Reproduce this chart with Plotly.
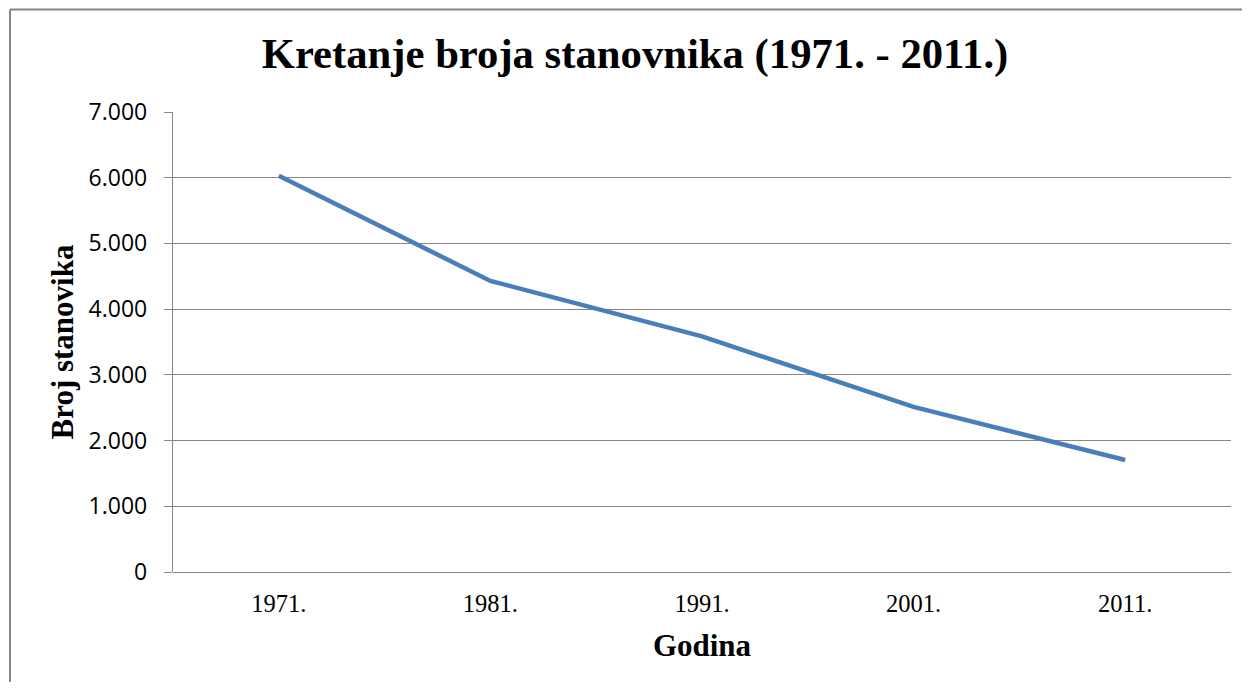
import plotly.graph_objects as go

# Data
godine = ["1971.", "1981.", "1991.", "2001.", "2011."]
stanovnici = [6030, 4430, 3585, 2512, 1705]
y_ticks = [0, 1000, 2000, 3000, 4000, 5000, 6000, 7000]

OFF = 8  # default page body margin
W, H = 1250 - 2 * OFF, 690 - 2 * OFF  # fit inside the window without scrolling
# target plot area on screen: x 173..1231, y 112..572
ML, MT = 173 - OFF, 112 - OFF
MR, MB = (W + OFF) - 1231, (H + OFF) - 572

fig = go.Figure()
fig.add_trace(go.Scatter(
    x=godine, y=stanovnici, mode="lines",
    line=dict(color="#4A7EBB", width=4.5),
    showlegend=False, hoverinfo="x+y",
))

grid = "#868686"
pw = W - ML - MR
ph = H - MT - MB
# outer chart border (left & top visible), screen x=10, y=9.5
bx = (10 - OFF - ML) / pw
by = (H - MB - (9.5 - OFF)) / ph
fig.add_shape(type="line", xref="paper", yref="paper", x0=bx, x1=bx, y0=by, y1=-1,
              line=dict(color=grid, width=2))
fig.add_shape(type="line", xref="paper", yref="paper", x0=bx, x1=2, y0=by, y1=by,
              line=dict(color=grid, width=2))

fig.update_layout(
    width=W, height=H,
    margin=dict(l=ML, r=MR, t=MT, b=MB, pad=0),
    paper_bgcolor="white", plot_bgcolor="white",
    separators=",.",
    title=dict(
        text="<b>Kretanje broja stanovnika (1971. - 2011.)</b>",
        font=dict(family="Liberation Serif", size=42.7, color="black"),
        x=(635 - OFF) / W, xanchor="center", xref="container",
        y=1 - (53 - OFF) / H, yanchor="middle", yref="container",
    ),
    xaxis=dict(
        type="category", range=[-0.5, 4.5],
        showgrid=False, zeroline=False,
        showline=False, ticks="",
        ticklabelstandoff=14,
        tickfont=dict(family="Liberation Serif", size=24.5, color="black"),
        title=dict(text="<b>Godina</b>", standoff=18,
                   font=dict(family="Liberation Serif", size=31, color="black")),
    ),
    yaxis=dict(
        range=[0, 7000], tickvals=y_ticks, tickformat=",d",
        showgrid=True, gridcolor=grid, gridwidth=1.3,
        zeroline=True, zerolinecolor=grid, zerolinewidth=1.3,
        showline=True, linecolor=grid, linewidth=1.3,
        ticks="outside", ticklen=8, tickcolor=grid, tickwidth=1.3,
        ticklabelstandoff=12,
        tickfont=dict(family="Open Sans", size=23, color="black"),
        title=dict(text="<b>Broj stanovika</b>", standoff=5,
                   font=dict(family="Liberation Serif", size=31, color="black")),
    ),
)

fig.write_html("out.html")
